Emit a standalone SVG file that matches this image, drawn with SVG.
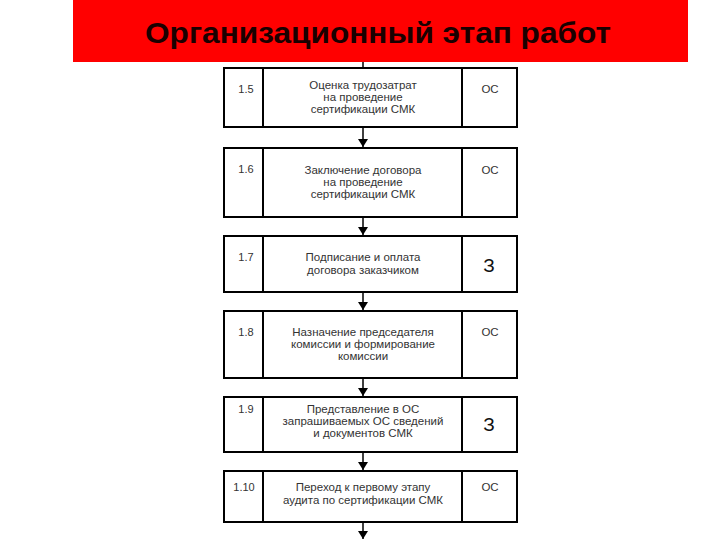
<svg xmlns="http://www.w3.org/2000/svg" width="720" height="540" viewBox="0 0 720 540">
<style>
.box{fill:#fff;stroke:#000;stroke-width:2}
.div{stroke:#000;stroke-width:2}
.num{font-family:"Liberation Sans",Arial,sans-serif;font-size:11px;fill:#333;text-anchor:middle}
.txt{font-family:"Liberation Sans",Arial,sans-serif;font-size:11.5px;fill:#333;text-anchor:middle}
.who{font-family:"Liberation Sans",Arial,sans-serif;font-size:11.5px;fill:#333;text-anchor:middle}
.z{font-family:"Liberation Sans",Arial,sans-serif;font-size:19px;fill:#111;text-anchor:middle}
.con{stroke:#000;stroke-width:1.5;fill:none}
</style>
<defs>
<marker id="ah" viewBox="0 0 8 10" refX="8" refY="5" markerWidth="8" markerHeight="10" markerUnits="userSpaceOnUse" orient="auto">
<path d="M0,0 L8,5 L0,10 z" fill="#000"/>
</marker>
</defs>
<rect width="720" height="540" fill="#fff"/>
<g id="title">
<rect x="73" y="0" width="615" height="62" fill="#ff0000"/>
<text x="378" y="43" font-family="'Liberation Sans',Arial,sans-serif" font-size="30" font-weight="bold" fill="#1a0000" text-anchor="middle" textLength="466" lengthAdjust="spacingAndGlyphs">Организационный этап работ</text>
</g>
<g id="connectors">
<line class="con" x1="363" y1="62" x2="363" y2="68"/>
<line class="con" x1="363" y1="127" x2="363" y2="147" marker-end="url(#ah)"/>
<line class="con" x1="363" y1="217" x2="363" y2="235" marker-end="url(#ah)"/>
<line class="con" x1="363" y1="292" x2="363" y2="310" marker-end="url(#ah)"/>
<line class="con" x1="363" y1="378" x2="363" y2="396" marker-end="url(#ah)"/>
<line class="con" x1="363" y1="452" x2="363" y2="470" marker-end="url(#ah)"/>
<line class="con" x1="363" y1="522" x2="363" y2="539" marker-end="url(#ah)"/>
</g>
<g id="step-1-5">
<rect class="box" x="224" y="68" width="293" height="59"/>
<line class="div" x1="263" y1="68" x2="263" y2="127"/>
<line class="div" x1="462" y1="68" x2="462" y2="127"/>
<text class="num" x="246" y="93">1.5</text>
<text class="txt" x="363" y="89">Оценка трудозатрат</text>
<text class="txt" x="363" y="101">на проведение</text>
<text class="txt" x="363" y="113">сертификации СМК</text>
<text class="who" x="490" y="93">ОС</text>
</g>
<g id="step-1-6">
<rect class="box" x="224" y="148" width="293" height="69"/>
<line class="div" x1="263" y1="148" x2="263" y2="217"/>
<line class="div" x1="462" y1="148" x2="462" y2="217"/>
<text class="num" x="246" y="173">1.6</text>
<text class="txt" x="363" y="174">Заключение договора</text>
<text class="txt" x="363" y="186">на проведение</text>
<text class="txt" x="363" y="198">сертификации СМК</text>
<text class="who" x="490" y="174">ОС</text>
</g>
<g id="step-1-7">
<rect class="box" x="224" y="236" width="293" height="56"/>
<line class="div" x1="263" y1="236" x2="263" y2="292"/>
<line class="div" x1="462" y1="236" x2="462" y2="292"/>
<text class="num" x="246" y="261">1.7</text>
<text class="txt" x="363" y="261">Подписание и оплата</text>
<text class="txt" x="363" y="274">договора заказчиком</text>
<text class="z" x="489" y="272">З</text>
</g>
<g id="step-1-8">
<rect class="box" x="224" y="311" width="293" height="67"/>
<line class="div" x1="263" y1="311" x2="263" y2="378"/>
<line class="div" x1="462" y1="311" x2="462" y2="378"/>
<text class="num" x="246" y="336">1.8</text>
<text class="txt" x="363" y="336">Назначение председателя</text>
<text class="txt" x="363" y="348">комиссии и формирование</text>
<text class="txt" x="363" y="360">комиссии</text>
<text class="who" x="490" y="336">ОС</text>
</g>
<g id="step-1-9">
<rect class="box" x="224" y="397" width="293" height="55"/>
<line class="div" x1="263" y1="397" x2="263" y2="452"/>
<line class="div" x1="462" y1="397" x2="462" y2="452"/>
<text class="num" x="246" y="413">1.9</text>
<text class="txt" x="363" y="413">Представление в ОС</text>
<text class="txt" x="363" y="425">запрашиваемых ОС сведений</text>
<text class="txt" x="363" y="437">и документов СМК</text>
<text class="z" x="489" y="431">З</text>
</g>
<g id="step-1-10">
<rect class="box" x="224" y="471" width="293" height="51"/>
<line class="div" x1="263" y1="471" x2="263" y2="522"/>
<line class="div" x1="462" y1="471" x2="462" y2="522"/>
<text class="num" x="244" y="491">1.10</text>
<text class="txt" x="363" y="491">Переход к первому этапу</text>
<text class="txt" x="363" y="504">аудита по сертификации СМК</text>
<text class="who" x="490" y="491">ОС</text>
</g>
</svg>
